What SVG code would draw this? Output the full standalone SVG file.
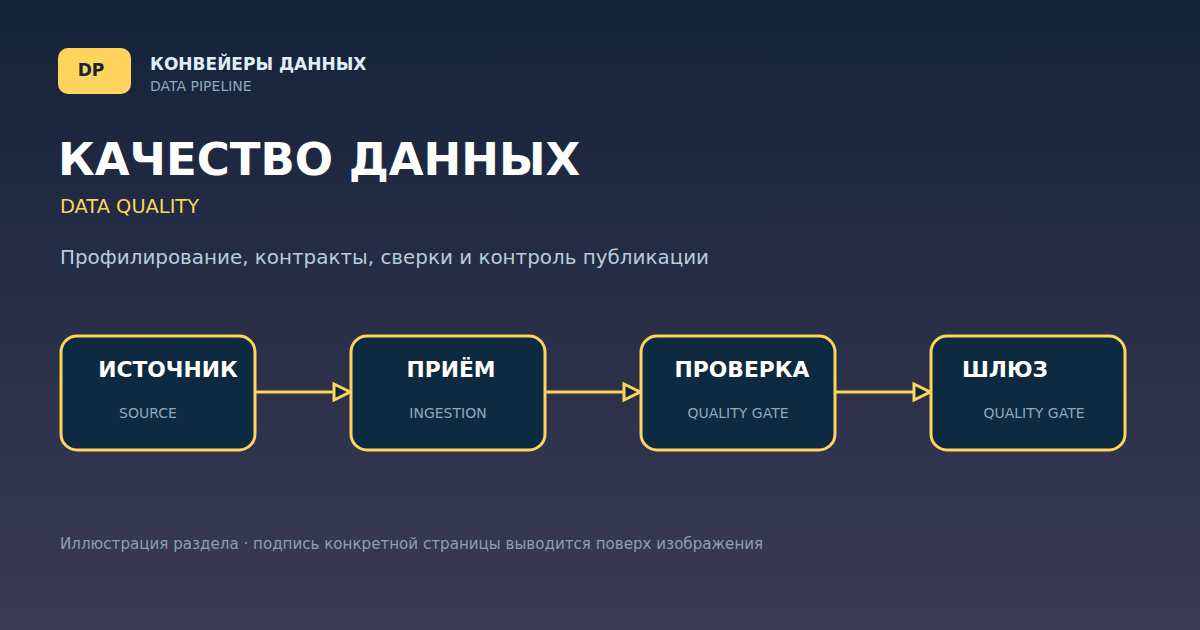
<svg xmlns="http://www.w3.org/2000/svg" width="1200" height="630" viewBox="0 0 1200 630">
<defs>
<linearGradient id="bg" x1="0" y1="0" x2="0" y2="1">
<stop offset="0" stop-color="#14233A"/>
<stop offset="1" stop-color="#3C3A55"/>
</linearGradient>
<marker id="arr" viewBox="0 0 20 20" markerWidth="20" markerHeight="20" refX="18" refY="10" orient="auto" markerUnits="userSpaceOnUse">
<path d="M2,2 L18,10 L2,18 Z" fill="#0E2A40" stroke="#FFD45C" stroke-width="3" stroke-linejoin="miter"/>
</marker>
<style>
text{font-family:"DejaVu Sans","Noto Sans",sans-serif}
.node rect{fill:#0E2A40;stroke:#FFD45C;stroke-width:3}
.nt{font-weight:bold;font-size:21.8px;fill:#FFFFFF;text-anchor:middle}
.ns{font-size:14px;fill:#8FA8BF;text-anchor:middle}
.conn line{stroke:#FFD45C;stroke-width:3}
</style>
</defs>
<rect width="1200" height="630" fill="url(#bg)"/>
<g id="header">
<rect x="58" y="48" width="73" height="46" rx="10" fill="#FFD45C"/>
<text x="91" y="76" font-size="17" font-weight="bold" fill="#14233A" text-anchor="middle">DP</text>
<text x="150" y="70" font-size="17" font-weight="bold" fill="#E0EEF8">КОНВЕЙЕРЫ ДАННЫХ</text>
<text x="150" y="91" font-size="14" fill="#8FA8BF">DATA PIPELINE</text>
<text x="58" y="175" font-size="45" font-weight="bold" fill="#FFFFFF">КАЧЕСТВО ДАННЫХ</text>
<text x="60" y="213" font-size="19.4" fill="#FFD45C">DATA QUALITY</text>
<text x="60" y="264" font-size="19.9" fill="#B8CCDC">Профилирование, контракты, сверки и контроль публикации</text>
</g>
<g id="connectors" class="conn">
<line x1="256" y1="392" x2="350" y2="392" marker-end="url(#arr)"/>
<line x1="546" y1="392" x2="640" y2="392" marker-end="url(#arr)"/>
<line x1="836" y1="392" x2="930" y2="392" marker-end="url(#arr)"/>
</g>
<g id="node-source" class="node">
<rect x="61" y="336" width="194" height="114" rx="16"/>
<text class="nt" x="168" y="377">ИСТОЧНИК</text>
<text class="ns" x="148" y="418">SOURCE</text>
</g>
<g id="node-ingestion" class="node">
<rect x="351" y="336" width="194" height="114" rx="16"/>
<text class="nt" x="451" y="377">ПРИЁМ</text>
<text class="ns" x="448" y="418">INGESTION</text>
</g>
<g id="node-check" class="node">
<rect x="641" y="336" width="194" height="114" rx="16"/>
<text class="nt" x="742" y="377">ПРОВЕРКА</text>
<text class="ns" x="738" y="418">QUALITY GATE</text>
</g>
<g id="node-gate" class="node">
<rect x="931" y="336" width="194" height="114" rx="16"/>
<text class="nt" x="1005" y="377">ШЛЮЗ</text>
<text class="ns" x="1034" y="418">QUALITY GATE</text>
</g>
<text x="60" y="549" font-size="15.1" fill="#8AA0B4">Иллюстрация раздела · подпись конкретной страницы выводится поверх изображения</text>
</svg>
